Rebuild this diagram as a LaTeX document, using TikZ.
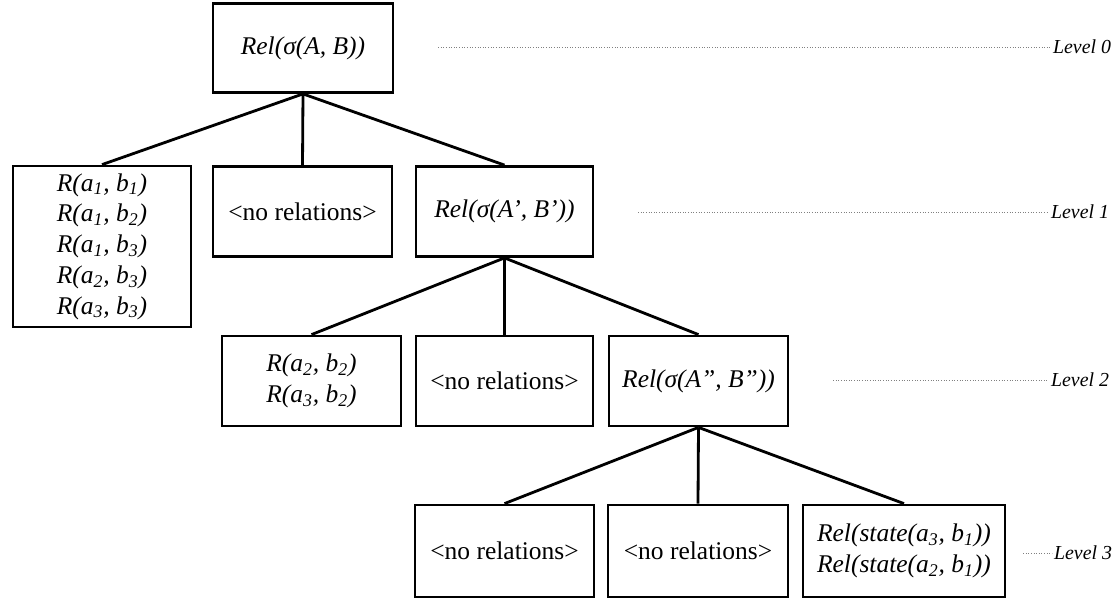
\documentclass[tikz,border=0pt]{standalone}
\usepackage{fontspec}
\setmainfont{Liberation Serif}
\usepackage{tikz}
\usetikzlibrary{positioning}
\newcommand{\Rab}[2]{\textit{R(a\textsubscript{#1}, b\textsubscript{#2})}}
\newcommand{\Rst}[2]{\textit{Rel(state(a\textsubscript{#1}, b\textsubscript{#2}))}}
\begin{document}
\begin{tikzpicture}[x=0.02cm, y=-0.02cm,
    bx/.style={draw,line width=1.6pt,align=center,inner sep=2pt,
               font=\fontsize{14.5}{17.5}\selectfont,minimum height=1.8cm},
    lvl/.style={font=\fontsize{11.3}{13}\selectfont\itshape,inner sep=1pt,anchor=west},
    lvline/.style={gray,densely dotted,line width=0.5pt},
    edge/.style={line width=1.6pt}]
    \useasboundingbox (0,0) rectangle (1113,599);
    \node[bx,minimum width=3.6cm,minimum height=1.78cm] (root) at (303,48) {\textit{Rel(σ(A, B))}};
    \node[bx,minimum width=3.56cm,minimum height=3.22cm] (l1a) at (102,246.5)
         {\Rab{1}{1}\\\Rab{1}{2}\\\Rab{1}{3}\\\Rab{2}{3}\\\Rab{3}{3}};
    \node[bx,minimum width=3.58cm] (l1b) at (302.5,211.5) {<no relations>};
    \node[bx,minimum width=3.54cm] (l1c) at (504.5,211.5) {\textit{Rel(σ(A’, B’))}};
    \node[bx,minimum width=3.58cm] (l2a) at (311.5,381) {\Rab{2}{2}\\\Rab{3}{2}};
    \node[bx,minimum width=3.54cm] (l2b) at (504.5,381) {<no relations>};
    \node[bx,minimum width=3.58cm] (l2c) at (698.5,381) {\textit{Rel(σ(A”, B”))}};
    \node[bx,minimum width=3.58cm,minimum height=1.84cm] (l3a) at (504.5,551) {<no relations>};
    \node[bx,minimum width=3.6cm,minimum height=1.84cm]  (l3b) at (698,551) {<no relations>};
    \node[bx,minimum width=4.04cm,minimum height=1.84cm] (l3c) at (904,551) {\Rst{3}{1}\\\Rst{2}{1}};
    \foreach \a/\b in {root/l1a,root/l1b,root/l1c,l1c/l2a,l1c/l2b,l1c/l2c,l2c/l3a,l2c/l3b,l2c/l3c}
        \draw[edge] (\a.south) -- (\b.north);
    \node[lvl] (lv0) at (1051,47)  {Level 0};
    \node[lvl] (lv1) at (1049,212) {Level 1};
    \node[lvl] (lv2) at (1049,380) {Level 2};
    \node[lvl] (lv3) at (1052,553) {Level 3};
    \coordinate (s0) at (438,47);
    \coordinate (s1) at (638,212);
    \coordinate (s2) at (833,380);
    \coordinate (s3) at (1023,553);
    \foreach \s/\l in {s0/lv0,s1/lv1,s2/lv2,s3/lv3} \draw[lvline] (\s) -- (\l.west);
\end{tikzpicture}
\end{document}
